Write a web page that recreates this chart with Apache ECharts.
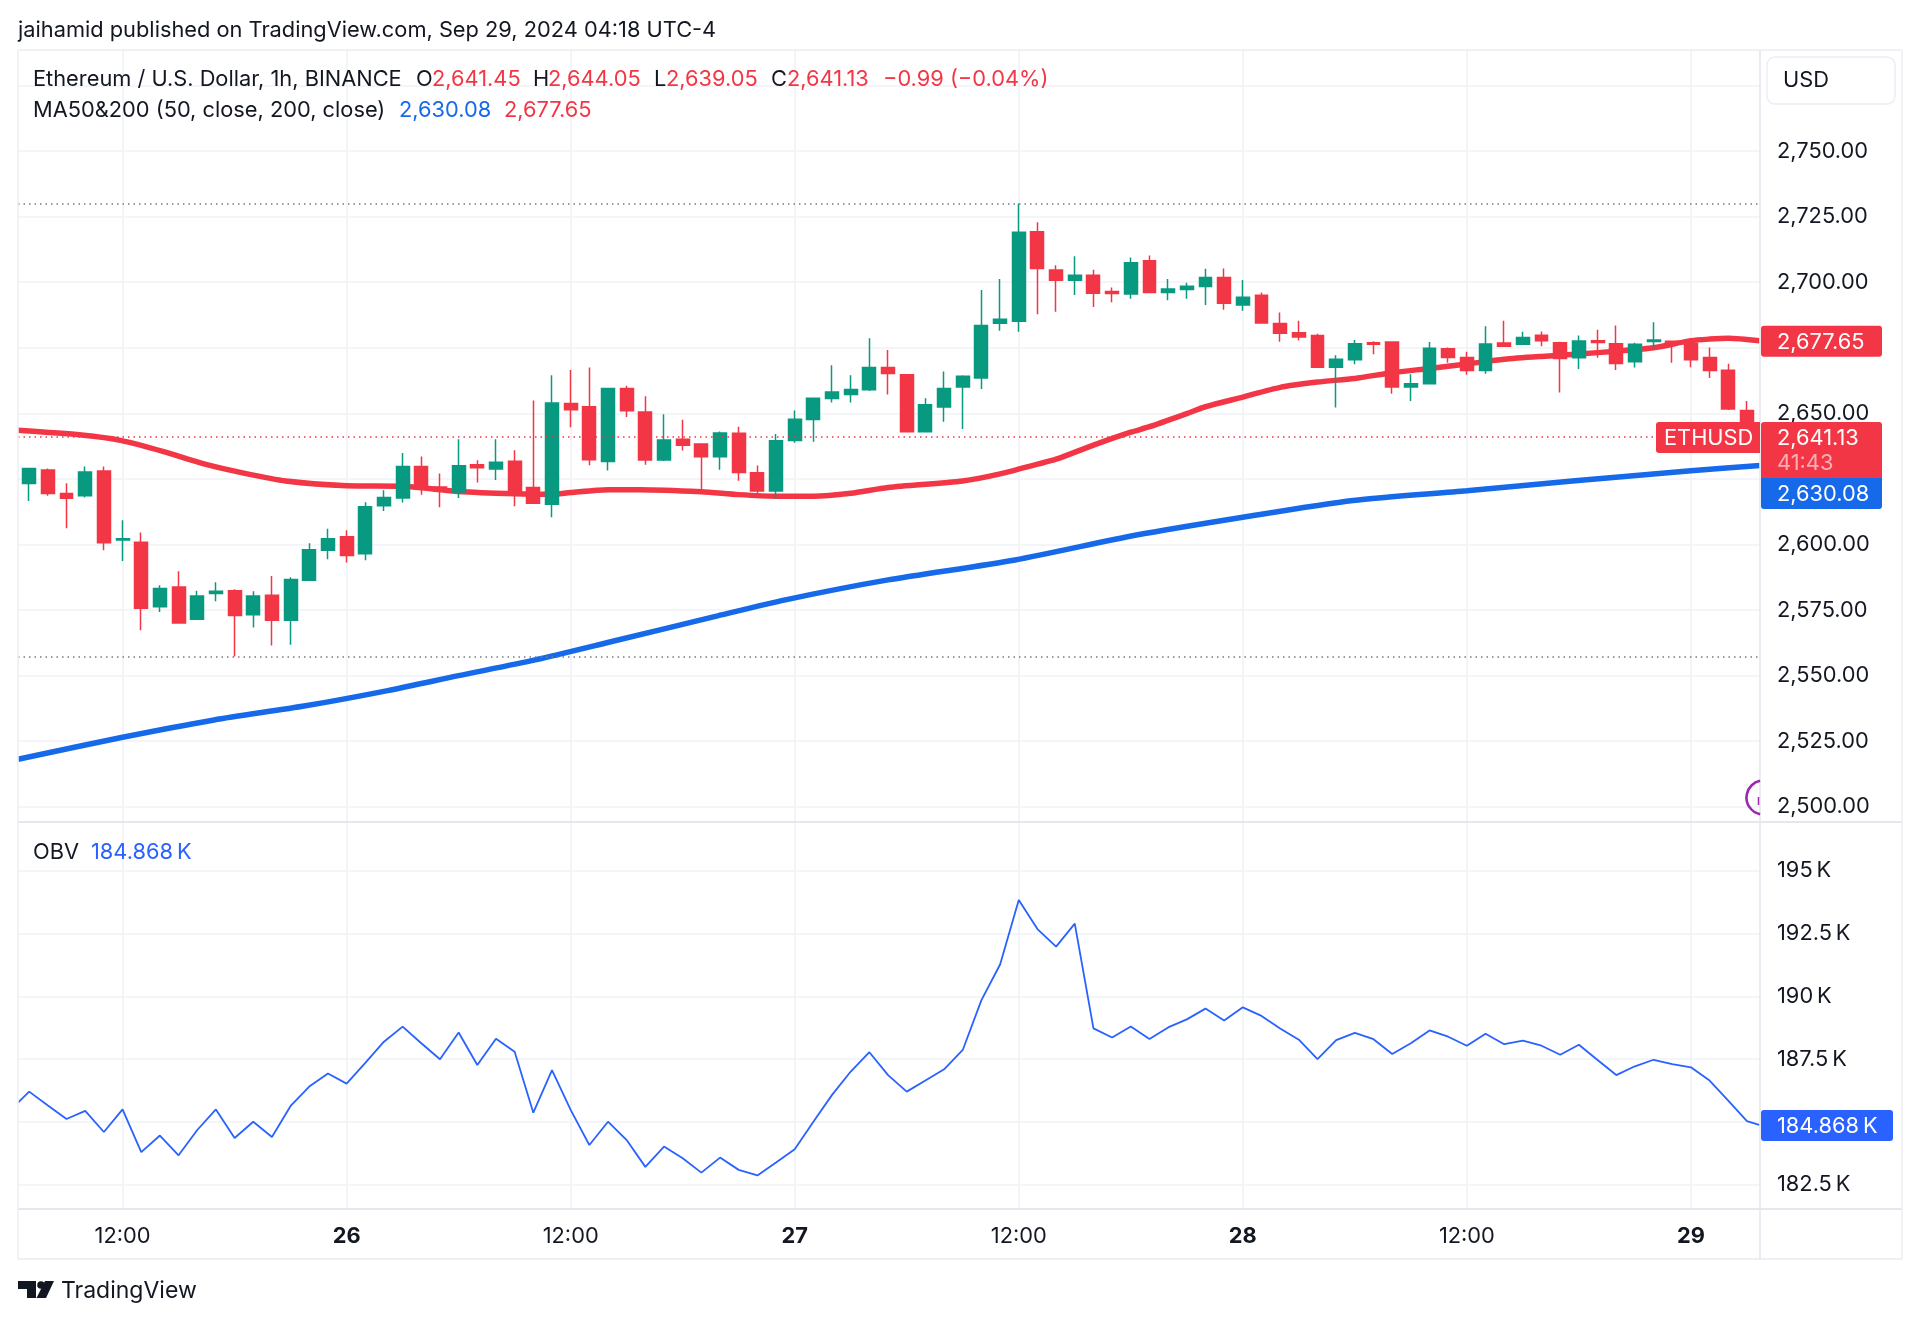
<!DOCTYPE html>
<html><head><meta charset="utf-8">
<script src="https://cdn.jsdelivr.net/npm/echarts@6/dist/echarts.min.js"></script>
<style>html,body{margin:0;padding:0;background:#fff}#c{width:1920px;height:1323px}</style>
</head><body><div id="c"></div>
<script>
// Bars are hourly; x is hours since Sep 25 07:00.
const firstHour = -0.6, lastHour = 92.7;
const opens = [2623.2,2628.4,2619.4,2618.6,2628.0,2601.7,2600.8,2576.3,2583.8,2571.5,2581.3,2582.4,2573.2,2580.6,2571.1,2586.4,2597.8,2602.9,2596.5,2614.8,2617.7,2629.7,2621.9,2620.0,2630.4,2628.8,2631.7,2621.7,2615.3,2653.7,2652.5,2631.6,
2659.5,2650.5,2632.2,2640.1,2638.3,2633.4,2642.4,2627.3,2620.4,2639.6,2647.6,2655.6,2657.2,2659.0,2667.5,2664.7,2643.0,2652.4,2660.0,2663.5,2684.3,2685.1,2719.2,2704.6,2700.7,2702.6,2696.4,2695.5,2708.2,2696.1,2697.2,2698.3,2701.8,2691.3,
2695.0,2684.2,2680.7,2679.7,2667.6,2670.4,2676.9,2677.2,2660.0,2661.3,2674.6,2671.3,2666.3,2676.8,2676.3,2679.8,2676.9,2671.2,2677.7,2676.5,2669.7,2677.4,2677.5,2676.7,2671.3,2666.4,2651.1];
const closes = [2629.0,2619.4,2617.6,2627.6,2600.7,2602.2,2575.7,2583.2,2570.1,2580.4,2582.2,2572.9,2580.4,2571.1,2586.6,2598.0,2602.2,2595.8,2614.4,2617.9,2629.7,2621.4,2621.2,2630.0,2629.2,2631.3,2618.9,2615.7,2653.9,2651.4,2632.3,2659.5,
2651.0,2632.2,2639.8,2637.8,2633.4,2642.5,2627.4,2620.4,2639.5,2647.7,2655.7,2658.1,2659.1,2667.5,2665.2,2643.0,2653.3,2659.5,2664.1,2683.5,2685.9,2719.0,2705.2,2700.7,2702.6,2695.8,2695.7,2707.4,2696.1,2697.4,2698.4,2701.8,2692.0,2694.2,
2684.4,2680.5,2679.1,2667.6,2670.6,2676.5,2676.3,2660.0,2661.3,2674.8,2671.3,2666.3,2676.4,2675.6,2678.9,2677.7,2670.9,2677.6,2677.0,2669.0,2676.3,2677.9,2677.0,2670.4,2666.3,2651.6,2641.45];
const lows = [2616.6,2618.6,2606.2,2617.9,2597.8,2593.7,2567.3,2574.3,2570.1,2571.5,2578.4,2557.3,2568.3,2561.5,2561.8,2586.1,2594.4,2593.1,2594.0,2612.8,2616.0,2619.0,2614.2,2617.7,2623.6,2624.6,2614.6,2615.7,2610.4,2644.7,2630.2,2628.2,
2648.6,2630.4,2631.8,2635.8,2620.8,2628.5,2624.3,2619.5,2617.4,2638.8,2639.2,2654.1,2654.1,2658.5,2657.2,2643.0,2643.0,2646.8,2644.0,2659.3,2681.5,2681.1,2687.8,2688.7,2695.1,2690.5,2692.3,2693.7,2696.1,2693.1,2693.7,2691.3,2689.5,2689.1,
2684.4,2677.3,2677.8,2667.6,2652.2,2668.7,2672.5,2657.5,2654.7,2661.3,2669.3,2664.7,2665.1,2675.6,2676.0,2675.6,2657.9,2666.9,2671.2,2666.5,2667.5,2674.8,2669.3,2667.6,2663.5,2651.3,2639.05];
const highs = [2629.0,2629.0,2623.3,2629.7,2629.7,2609.2,2604.6,2584.5,2589.8,2582.4,2585.6,2582.9,2582.2,2588.0,2587.5,2600.5,2606.0,2605.4,2616.1,2620.7,2634.9,2633.5,2627.1,2640.1,2632.1,2640.1,2635.9,2654.9,2664.5,2666.5,2667.5,2659.5,
2660.5,2656.5,2649.6,2647.5,2638.6,2643.1,2644.9,2630.1,2642.1,2651.1,2655.7,2668.3,2664.5,2678.6,2674.1,2664.7,2655.7,2665.9,2664.5,2697.0,2701.2,2730.0,2722.8,2706.4,2709.9,2704.7,2698.0,2709.4,2710.2,2701.2,2699.8,2705.1,2705.2,2700.8,
2696.1,2688.4,2685.3,2680.3,2672.1,2677.9,2677.5,2677.2,2664.9,2677.2,2675.1,2673.5,2683.2,2685.3,2681.1,2681.2,2677.3,2679.7,2681.9,2683.5,2676.9,2684.7,2677.5,2677.9,2675.1,2668.9,2654.7];

const ma50Hours = [-0.6,2.8,4.95,7.2,9.36,11.55,13.74,17,20,23,26,28,29,31,32.7,36,38,40,42,44,46,50,52,54,55,57,59,60,62,63,65,67,69,71,73,75,77,79,81,83,85,87,89,90,91,92.7];
const ma50Values = [2643.5,2641.7,2639.6,2635.4,2630.7,2627.1,2624.2,2622.4,2622.2,2620.2,2619.3,2619.1,2619.8,2620.9,2620.9,2620.1,2619.0,2618.4,2618.4,2619.5,2621.7,2624.2,2626.9,2630.6,2632.5,2637.9,2642.8,2644.9,2649.9,2652.5,2656.2,2659.9,2661.9,2663.3,2665.5,2667.1,2668.8,2670.6,2671.7,2672.6,2673.7,2675.0,2677.7,2678.3,2678.6,2677.65];
const ma200Hours = [-0.6,5,9.9,14.8,19.2,23,27.1,31.2,36.7,40.5,46,52.8,59.3,65,70.9,77,82.8,89,92.7];
const ma200Values = [2518.1,2526.5,2533.1,2538.5,2544.3,2550.0,2556.0,2563.0,2572.5,2578.9,2586.5,2594.1,2603.6,2610.4,2616.8,2620.5,2624.3,2628.1,2630.08];

const obvStart = 185.76, obvEnd = 184.868; // values at the pane's left and right edges
const obvValues = [186.2,185.65,185.11,185.43,184.59,185.49,183.79,184.45,183.66,184.67,
185.49,184.35,185.0,184.39,185.63,186.4,186.92,186.52,187.35,188.19,
188.79,188.13,187.49,188.56,187.26,188.31,187.79,185.36,187.06,185.47,
184.07,185.0,184.27,183.2,184.01,183.54,182.97,183.57,183.08,182.86,
183.37,183.9,185.0,186.07,187.0,187.77,186.86,186.2,186.64,187.09,
187.86,189.85,191.27,193.84,192.68,191.98,192.9,188.72,188.36,188.8,
188.3,188.76,189.08,189.51,189.04,189.56,189.22,188.72,188.27,187.5,
188.25,188.54,188.29,187.7,188.13,188.64,188.39,188.03,188.51,188.09,
188.23,188.03,187.67,188.07,187.46,186.86,187.21,187.47,187.3,187.17,
186.64,185.84,185.02];

const timeTickHours = [5,17,29,41,53,65,77,89];
const timeTickLabels = ['12:00','26','12:00','27','12:00','28','12:00','29'];
const priceGrid = [2500,2525,2550,2575,2600,2625,2650,2675,2700,2725,2750,2775];
const priceLabels = [2500,2525,2550,2575,2600,2650,2700,2725,2750];
const obvGrid = [182.5,185,187.5,190,192.5,195];
const obvLabels = [182.5,187.5,190,192.5,195];
const periodHigh = 2730.0, periodLow = 2557.3, lastPrice = 2641.13, ma50Last = 2677.65, ma200Last = 2630.08;

const FONT = 'Inter, "Liberation Sans", sans-serif';
const INK = '#131722', RED = '#F23645', GREEN = '#089981', BLUE = '#1669E8', OBV = '#2962FF';
const GRIDC = '#f1f2f6', EDGE = '#e6e7ee';
const FS = 21.8;
const L = 18, R = 1760, OUT = 1902, T0 = 50, T1 = 822, B1 = 1208, B2 = 1259;

const fmtPrice = v => v.toLocaleString('en-US',{minimumFractionDigits:2,maximumFractionDigits:2});
const candleData = opens.map((o,i)=>[i,o,closes[i],lows[i],highs[i]]);
const obvData = [[firstHour,obvStart]].concat(obvValues.map((v,i)=>[i,v]),[[lastHour,obvEnd]]);

const split = {show:true,lineStyle:{color:GRIDC,width:1.6}};
const chart = echarts.init(document.getElementById('c'),null,{renderer:'canvas',width:1920,height:1323});
const xBase = {type:'value',min:firstHour,max:lastHour,axisLine:{show:false},
  axisTick:{show:false,customValues:timeTickHours},splitLine:split};

chart.setOption({
  animation:false, backgroundColor:'#fff',
  textStyle:{fontFamily:FONT},
  grid:[{left:L,top:T0,width:R-L,height:T1-T0},{left:L,top:T1,width:R-L,height:B1-T1}],
  xAxis:[
    Object.assign({gridIndex:0,axisLabel:{show:false,customValues:timeTickHours}},xBase),
    Object.assign({gridIndex:1,axisLabel:{show:true,customValues:timeTickHours,margin:17.5,color:INK,fontFamily:FONT,fontSize:FS,
      formatter:v=>{const s=timeTickLabels[timeTickHours.indexOf(v)];return s.length===2?'{b|'+s+'}':s;},
      rich:{b:{fontWeight:700,fontSize:FS,color:INK,fontFamily:FONT}}}},xBase)
  ],
  yAxis:[
    {type:'value',gridIndex:0,position:'right',min:2494.2,max:2788.5,axisLine:{show:false},
     axisTick:{show:false,customValues:priceGrid},splitLine:split,
     axisLabel:{customValues:priceLabels,margin:17,padding:[3,0,0,0],color:INK,fontFamily:FONT,fontSize:FS,formatter:fmtPrice}},
    {type:'value',gridIndex:1,position:'right',min:181.56,max:196.95,axisLine:{show:false},
     axisTick:{show:false,customValues:obvGrid},splitLine:split,
     axisLabel:{customValues:obvLabels,margin:17,padding:[5,0,0,0],color:INK,fontFamily:FONT,fontSize:FS,formatter:v=>v+'\u202FK'}}
  ],
  series:[
    {name:'MA200',type:'line',xAxisIndex:0,yAxisIndex:0,z:1,showSymbol:false,silent:true,smooth:0.25,
     lineStyle:{color:BLUE,width:5.5},data:ma200Hours.map((h,i)=>[h,ma200Values[i]])},
    {name:'MA50',type:'line',xAxisIndex:0,yAxisIndex:0,z:1,showSymbol:false,silent:true,smooth:0.25,
     lineStyle:{color:RED,width:5.5},data:ma50Hours.map((h,i)=>[h,ma50Values[i]])},
    {name:'ETHUSD',type:'candlestick',xAxisIndex:0,yAxisIndex:0,z:2,barWidth:13.4,silent:true,
     itemStyle:{color:GREEN,color0:RED,borderColor:GREEN,borderColor0:RED,borderWidth:1.5},
     data:candleData,
     markLine:{silent:true,symbol:'none',animation:false,label:{show:false},
       data:[
         {yAxis:periodHigh,lineStyle:{color:'#787B86',width:1.6,type:[1.5,4]}},
         {yAxis:periodLow,lineStyle:{color:'#787B86',width:1.6,type:[1.5,4]}},
         {yAxis:lastPrice,lineStyle:{color:RED,width:1.6,type:[1.5,4]}}
       ]}},
    {name:'OBV',type:'line',xAxisIndex:1,yAxisIndex:1,z:2,showSymbol:false,silent:true,
     lineStyle:{color:OBV,width:1.8},data:obvData}
  ]
});

function txt(x,y,text,color,opts){
  return {type:'text',z:60,x,y:y+1.5,silent:true,style:Object.assign({text,fill:color||INK,font:FS+'px '+FONT,textVerticalAlign:'middle',textBaseline:'middle',textAlign:'left'},opts||{})};
}
function rect(x,y,w,h,fill,r){return {type:'rect',z:50,silent:true,shape:{x,y,width:w,height:h,r:r||0},style:{fill}};}
function hline(x1,x2,y,c){return {type:'line',z:40,silent:true,shape:{x1,y1:y,x2,y2:y},style:{stroke:c||EDGE,lineWidth:2}};}
function vline(x,y1,y2,c){return {type:'line',z:40,silent:true,shape:{x1:x,y1,x2:x,y2},style:{stroke:c||EDGE,lineWidth:1.6}};}
const py = (v,i)=>chart.convertToPixel({yAxisIndex:i||0},v);

const TAGW = 121, TAGH = 31;
const yMa50 = py(ma50Last), yLast = py(lastPrice), yObv = py(obvEnd,1);
const tagTop = yLast-14.5;
const els = [
  // frame
  hline(L,OUT,T0,'#f0f1f5'), hline(L,R,T1), hline(R,OUT,T1), hline(L,OUT,B1+1), hline(L,OUT,B2,'#eeeff3'),
  vline(L,T0,B2,'#eeeff3'), vline(R,T0,B2), vline(OUT,T0,B2,'#eeeff3'),
  // header
  txt(18,29,'jaihamid published on TradingView.com, Sep 29, 2024 04:18 UTC-4'),
  txt(33,78,'Ethereum / U.S. Dollar, 1h, BINANCE'),
  txt(416,78,'O'), txt(432,78,'2,641.45',RED),
  txt(533,78,'H'), txt(548,78,'2,644.05',RED),
  txt(654,78,'L'), txt(666,78,'2,639.05',RED),
  txt(771,78,'C'), txt(787,78,'2,641.13',RED),
  txt(883,78,'\u22120.99 (\u22120.04%)',RED),
  txt(33,109,'MA50&200 (50, close, 200, close)'),
  txt(399,109,'2,630.08',BLUE), txt(504,109,'2,677.65',RED),
  txt(33,851,'OBV'), txt(91,851,'184.868\u202FK',OBV),
  // currency button
  {type:'rect',z:45,silent:true,shape:{x:1767,y:57,width:128,height:47,r:8},style:{fill:'#fff',stroke:'#eceef3',lineWidth:1.5}},
  txt(1783,79,'USD'),
  // event marker
  {type:'arc',z:41,silent:true,shape:{cx:1763.5,cy:797.5,r:17,startAngle:1.77,endAngle:4.51,clockwise:true},style:{stroke:'#9C27B0',lineWidth:2.6,fill:'none'}},
  {type:'line',z:41,silent:true,shape:{x1:1758.5,y1:797,x2:1758.5,y2:805},style:{stroke:'#9C27B0',lineWidth:1.5}},
  // price tags
  rect(R+1,yMa50-15,TAGW,TAGH,RED,3),
  txt(1777,yMa50,fmtPrice(ma50Last),'#fff'),
  rect(1656,tagTop,R-1656,TAGH,RED,[3,0,0,3]),
  txt(1664,yLast,'ETHUSD','#fff'),
  rect(R+1,tagTop,TAGW,57,RED,[3,3,0,0]),
  txt(1777,yLast,fmtPrice(lastPrice),'#fff'),
  txt(1777,yLast+25,'41:43','rgba(255,255,255,0.6)'),
  rect(R+1,tagTop+56,TAGW,31,BLUE,[0,0,3,3]),
  txt(1777,tagTop+71,fmtPrice(ma200Last),'#fff'),
  rect(R+1,yObv-15,132,31,OBV,3),
  txt(1777,yObv,'184.868\u202FK','#fff'),
  // logo
  {type:'polygon',z:45,silent:true,shape:{points:[[18,1281],[36,1281],[36,1298],[27,1298],[27,1289],[18,1289]]},style:{fill:INK}},
  {type:'circle',z:45,silent:true,shape:{cx:41,cy:1285,r:3.8},style:{fill:INK}},
  {type:'polygon',z:45,silent:true,shape:{points:[[45,1281],[54,1281],[46,1298],[36.5,1298]]},style:{fill:INK}},
  txt(61,1290,'TradingView',INK,{font:'23px '+FONT})
];
chart.setOption({graphic:{elements:els}});
</script></body></html>
